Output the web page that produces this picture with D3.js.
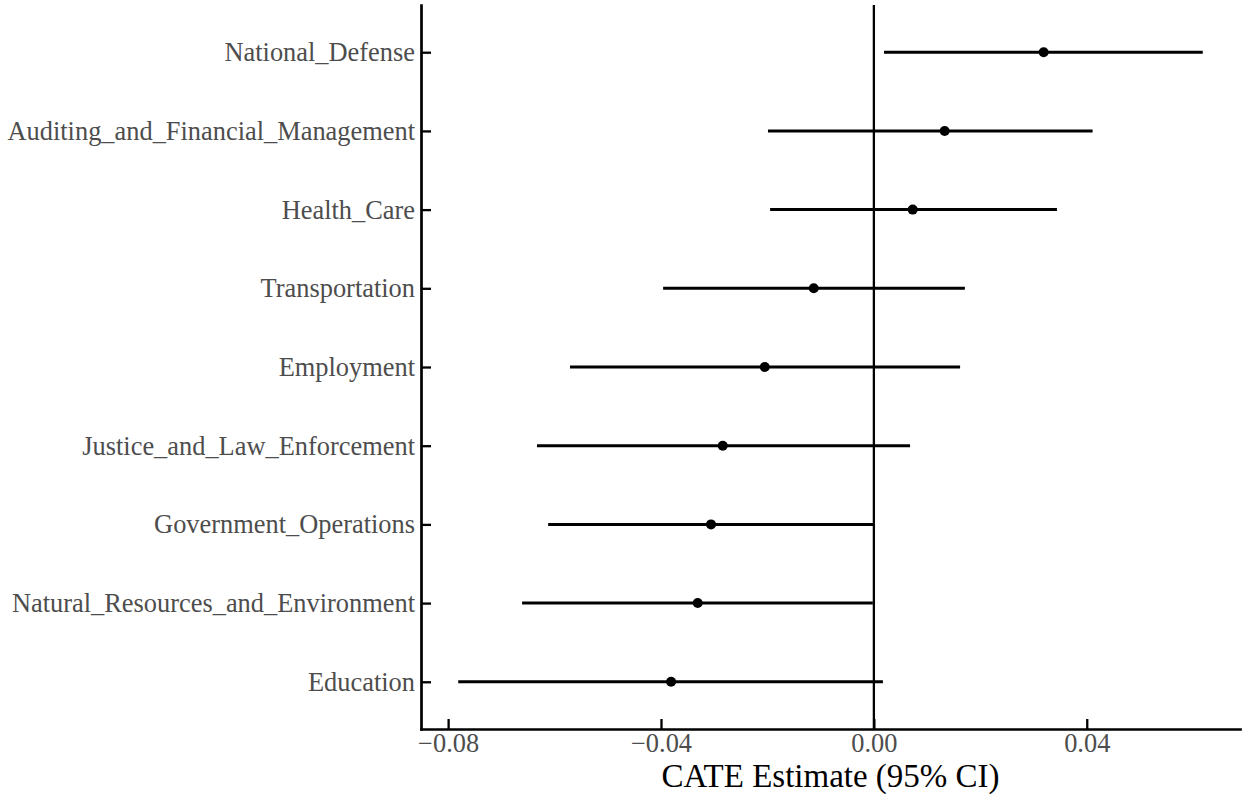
<!DOCTYPE html>
<html>
<head>
<meta charset="utf-8">
<script src="https://cdn.jsdelivr.net/npm/d3@7"></script>
<style>
  html, body { margin: 0; padding: 0; background: #ffffff; }
  svg { display: block; }
</style>
</head>
<body>
<svg id="chart" width="1244" height="795"></svg>
<script>
// Policy areas, top to bottom
const categories = [
  "National_Defense",
  "Auditing_and_Financial_Management",
  "Health_Care",
  "Transportation",
  "Employment",
  "Justice_and_Law_Enforcement",
  "Government_Operations",
  "Natural_Resources_and_Environment",
  "Education"
];
// Point estimates and 95% interval bounds
const estimate = [0.0319, 0.0133, 0.0073, -0.0113, -0.0205, -0.0284, -0.0306, -0.0331, -0.0381];
const lower    = [0.0019, -0.0199, -0.0195, -0.0396, -0.0571, -0.0633, -0.0612, -0.0661, -0.0781];
const upper    = [0.0618, 0.0411, 0.0344, 0.0171, 0.0162, 0.0068, 0.0000, -0.0002, 0.0017];
const xTicks   = [-0.08, -0.04, 0.00, 0.04];
const xTitle   = "CATE Estimate (95% CI)";

const rows = categories.map((c, i) => ({ cat: c, est: estimate[i], lo: lower[i], hi: upper[i] }));

const panel = { left: 421, right: 1240, top: 5, bottom: 729 };
const serif = "'Liberation Serif', 'Times New Roman', serif";
const axisTextSize = 26.4;
const titleSize = 33;

const svg = d3.select("#chart");

// x range: data extent padded by 5% on each side
const lo = d3.min(lower), hi = d3.max(upper);
const pad = (hi - lo) * 0.05;
const x = d3.scaleLinear().domain([lo - pad, hi + pad]).range([panel.left, panel.right]);

const y = d3.scalePoint().domain(categories).range([panel.top, panel.bottom]).padding(0.6);

// zero reference line
svg.append("line")
  .attr("x1", x(0)).attr("x2", x(0))
  .attr("y1", panel.top).attr("y2", panel.bottom)
  .attr("stroke", "#000").attr("stroke-width", 2.3);

// interval bars
svg.append("g").selectAll("line")
  .data(rows).join("line")
  .attr("x1", d => x(d.lo)).attr("x2", d => x(d.hi))
  .attr("y1", d => y(d.cat)).attr("y2", d => y(d.cat))
  .attr("stroke", "#000").attr("stroke-width", 3);

// point estimates
svg.append("g").selectAll("circle")
  .data(rows).join("circle")
  .attr("cx", d => x(d.est)).attr("cy", d => y(d.cat))
  .attr("r", 5).attr("fill", "#000");

// x axis (ticks point into the panel)
const xAxis = d3.axisBottom(x)
  .tickValues(xTicks)
  .tickFormat(d3.format(".2f"))
  .tickSizeInner(-10).tickSizeOuter(0).tickPadding(4);
const gx = svg.append("g").attr("transform", `translate(0,${panel.bottom})`).call(xAxis);

// y axis (ticks point into the panel)
const yAxis = d3.axisLeft(y).tickSizeInner(-10).tickSizeOuter(0).tickPadding(6);
const gy = svg.append("g").attr("transform", `translate(${panel.left},0)`).call(yAxis);

[gx, gy].forEach(g => {
  g.select(".domain").attr("stroke", "#000").attr("stroke-width", 2.7).attr("stroke-linecap", "square");
  g.selectAll(".tick line").attr("stroke", "#000").attr("stroke-width", 2.3);
  g.selectAll(".tick text")
    .attr("fill", "#4D4D4D")
    .style("font-family", serif)
    .style("font-size", axisTextSize + "px");
});

// axis title
svg.append("text")
  .attr("x", (panel.left + panel.right) / 2)
  .attr("y", 787)
  .attr("text-anchor", "middle")
  .attr("fill", "#000")
  .style("font-family", serif)
  .style("font-size", titleSize + "px")
  .text(xTitle);
</script>
</body>
</html>
